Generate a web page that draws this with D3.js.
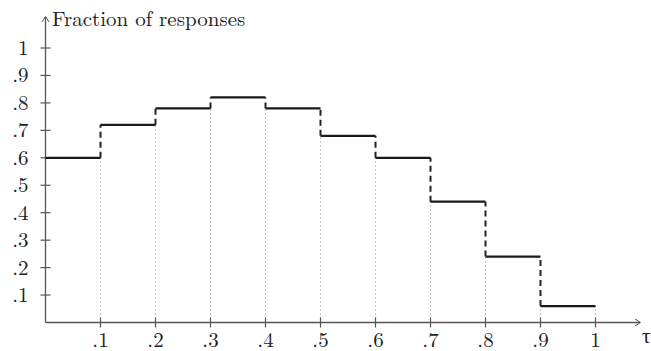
<!DOCTYPE html>
<html><head><meta charset="utf-8">
<script src="https://cdn.jsdelivr.net/npm/d3@7"></script>
<style>body{margin:0;background:#fff}svg{display:block}</style>
</head><body>
<script>
const binEdges = [0, .1, .2, .3, .4, .5, .6, .7, .8, .9, 1];
const fractions = [0.60, 0.72, 0.78, 0.82, 0.78, 0.68, 0.60, 0.44, 0.24, 0.06];
const xTicks = [.1, .2, .3, .4, .5, .6, .7, .8, .9, 1];
const yTicks = [.1, .2, .3, .4, .5, .6, .7, .8, .9, 1];
const tickLabel = v => v === 1 ? "1" : "." + Math.round(v * 10);
const yTitle = "Fraction of responses";
const xTitle = "τ";

const W = 651, H = 351;
const svg = d3.select("body").append("svg").attr("width", W).attr("height", H);
const x = d3.scaleLinear().domain([0, 1]).range([45.5, 595.5]);
const y = d3.scaleLinear().domain([0, 1]).range([322.5, 48]);
const font = "'Latin Modern Roman','CMU Serif','Liberation Serif',serif";
const axisCol = "#555";

// dotted guide lines and dashed jumps
const jumps = xTicks.map((t, i) => {
  const a = fractions[i], b = i + 1 < fractions.length ? fractions[i + 1] : 0;
  return {t, lo: Math.min(a, b), hi: Math.max(a, b), last: i + 1 >= fractions.length};
});
svg.append("g").selectAll("line").data(jumps).join("line")
  .attr("x1", d => x(d.t)).attr("x2", d => x(d.t))
  .attr("y1", y(0)).attr("y2", d => d.last ? y(d.hi) : y(d.lo))
  .attr("stroke", "#888").attr("stroke-width", 1).attr("stroke-dasharray", "1,3");
svg.append("g").selectAll("line").data(jumps.filter(d => !d.last)).join("line")
  .attr("x1", d => x(d.t)).attr("x2", d => x(d.t))
  .attr("y1", d => y(d.lo)).attr("y2", d => y(d.hi))
  .attr("stroke", "#222").attr("stroke-width", 2).attr("stroke-dasharray", "6,4");

// axes
const gx = svg.append("g").attr("transform", `translate(0,${y(0)})`);
gx.append("line").attr("x1", x(0)).attr("x2", 640).attr("stroke", axisCol).attr("stroke-width", 1.3);
gx.append("path").attr("d", "M635,-3.5 L640.5,0 L635,3.5").attr("fill", "none").attr("stroke", axisCol).attr("stroke-width", 1);
gx.selectAll("line.t").data(xTicks).join("line").attr("class", "t")
  .attr("x1", d => x(d)).attr("x2", d => x(d)).attr("y1", -5).attr("y2", 5)
  .attr("stroke", axisCol).attr("stroke-width", 1.2);
gx.selectAll("text").data(xTicks).join("text")
  .attr("x", d => x(d)).attr("y", 24).attr("text-anchor", "middle")
  .attr("font-family", font).attr("font-size", 21).attr("fill", "#222").text(tickLabel);
svg.append("text").attr("x", 642).attr("y", 343).attr("font-family", font).attr("font-size", 21).attr("fill", "#222").text(xTitle);

const gy = svg.append("g").attr("transform", `translate(${x(0)},0)`);
gy.append("line").attr("y1", y(0)).attr("y2", 17).attr("stroke", axisCol).attr("stroke-width", 1.3);
gy.append("path").attr("d", "M-3.5,22 L0,16.5 L3.5,22").attr("fill", "none").attr("stroke", axisCol).attr("stroke-width", 1);
gy.selectAll("line.t").data(yTicks).join("line").attr("class", "t")
  .attr("x1", -5).attr("x2", 5).attr("y1", d => y(d)).attr("y2", d => y(d))
  .attr("stroke", axisCol).attr("stroke-width", 1.2);
gy.selectAll("text").data(yTicks).join("text")
  .attr("x", -17).attr("y", d => y(d) + 7).attr("text-anchor", "end")
  .attr("font-family", font).attr("font-size", 21).attr("fill", "#222").text(tickLabel);
svg.append("text").attr("x", 52).attr("y", 26).attr("font-family", font).attr("font-size", 21).attr("fill", "#222").text(yTitle);

// steps
svg.append("g").selectAll("line").data(fractions).join("line")
  .attr("x1", (d, i) => x(binEdges[i])).attr("x2", (d, i) => x(binEdges[i + 1]))
  .attr("y1", d => y(d)).attr("y2", d => y(d))
  .attr("stroke", "#1a1a1a").attr("stroke-width", 2.2);
</script>
</body></html>
